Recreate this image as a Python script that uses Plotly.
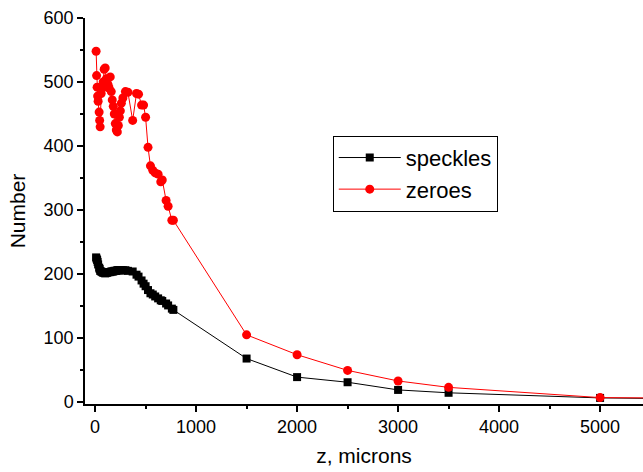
import plotly.graph_objects as go

# Distance along the propagation axis (microns)
z = [10, 15, 20, 25, 30, 40, 45, 50, 60, 70, 80, 90, 100, 110, 120, 130, 140,
     150, 160, 170, 180, 190, 200, 210, 220, 230, 240, 250, 260, 275, 300, 325,
     372, 410, 430, 460, 480, 500, 524, 548, 571, 595, 624, 650, 665, 703, 723,
     760, 775, 1500, 2000, 2500, 3000, 3500, 5000, 6000]

speckles = [226, 224, 222, 219, 215, 210, 208, 205, 204, 203, 202, 202, 201,
            202, 202, 203, 203, 203, 204, 204, 204, 205, 205, 205, 206, 206,
            206, 206, 206, 206, 206, 205, 204, 199, 196, 190, 185, 181, 175,
            170, 168, 165, 162, 159, 158, 154, 151, 146, 144, 68, 39, 31, 19,
            14.5, 6.5, 5]

zeroes = [548, 510, 492, 478, 470, 453, 440, 430, 482, 490, 500, 520, 522,
          505, 498, 495, 490, 508, 485, 472, 462, 450, 435, 425, 422, 432,
          445, 455, 467, 475, 485, 484, 440, 482, 481, 464, 464, 445, 398,
          369, 362, 358, 356, 344, 347, 315, 306, 284, 284, 105, 74, 49.5, 33,
          23, 7, 6]

FONT = "Liberation Sans, Arial, sans-serif"

fig = go.Figure()
fig.add_trace(go.Scatter(
    x=z, y=speckles, name="speckles", mode="lines+markers",
    line=dict(color="black", width=1),
    marker=dict(symbol="square", size=8, color="black",
                line=dict(width=0)),
))
fig.add_trace(go.Scatter(
    x=z, y=zeroes, name="zeroes", mode="lines+markers",
    line=dict(color="#ff0000", width=1),
    marker=dict(symbol="circle", size=9, color="#ff0000",
                line=dict(width=0)),
))

fig.update_layout(
    width=643, height=472,
    margin=dict(l=85, r=0, t=18, b=68),
    paper_bgcolor="white", plot_bgcolor="white",
    font=dict(family=FONT, color="black", size=18),
    showlegend=True,
    legend=dict(
        x=0.444, y=0.695, xanchor="left", yanchor="top",
        bgcolor="white", bordercolor="black", borderwidth=1,
        font=dict(size=22, family=FONT),
        itemwidth=62, tracegroupgap=0,
    ),
    xaxis=dict(
        range=[-100, 5425], showgrid=False, zeroline=False,
        showline=True, linecolor="black", linewidth=1.5,
        ticks="outside", ticklen=6, tickwidth=1.5, tickcolor="black",
        tickmode="array", tickvals=[0, 1000, 2000, 3000, 4000, 5000],
        ticktext=["0", "1000", "2000", "3000", "4000", "5000"],
        minor=dict(tickvals=[500, 1500, 2500, 3500, 4500],
                   ticks="outside", ticklen=3, tickwidth=1.5,
                   tickcolor="black"),
        title=dict(text="z, microns", font=dict(size=21), standoff=12),
        tickfont=dict(size=18),
    ),
    yaxis=dict(
        range=[-3, 600], showgrid=False, zeroline=False,
        showline=True, linecolor="black", linewidth=1.5,
        ticks="outside", ticklen=6, tickwidth=1.5, tickcolor="black",
        tickmode="array", tickvals=[0, 100, 200, 300, 400, 500, 600],
        ticktext=["0", "100", "200", "300", "400", "500", "600"],
        minor=dict(tickvals=[50, 150, 250, 350, 450, 550],
                   ticks="outside", ticklen=3, tickwidth=1.5,
                   tickcolor="black"),
        title=dict(text="Number", font=dict(size=21), standoff=12),
        tickfont=dict(size=18),
    ),
)

fig.write_html("out.html")
